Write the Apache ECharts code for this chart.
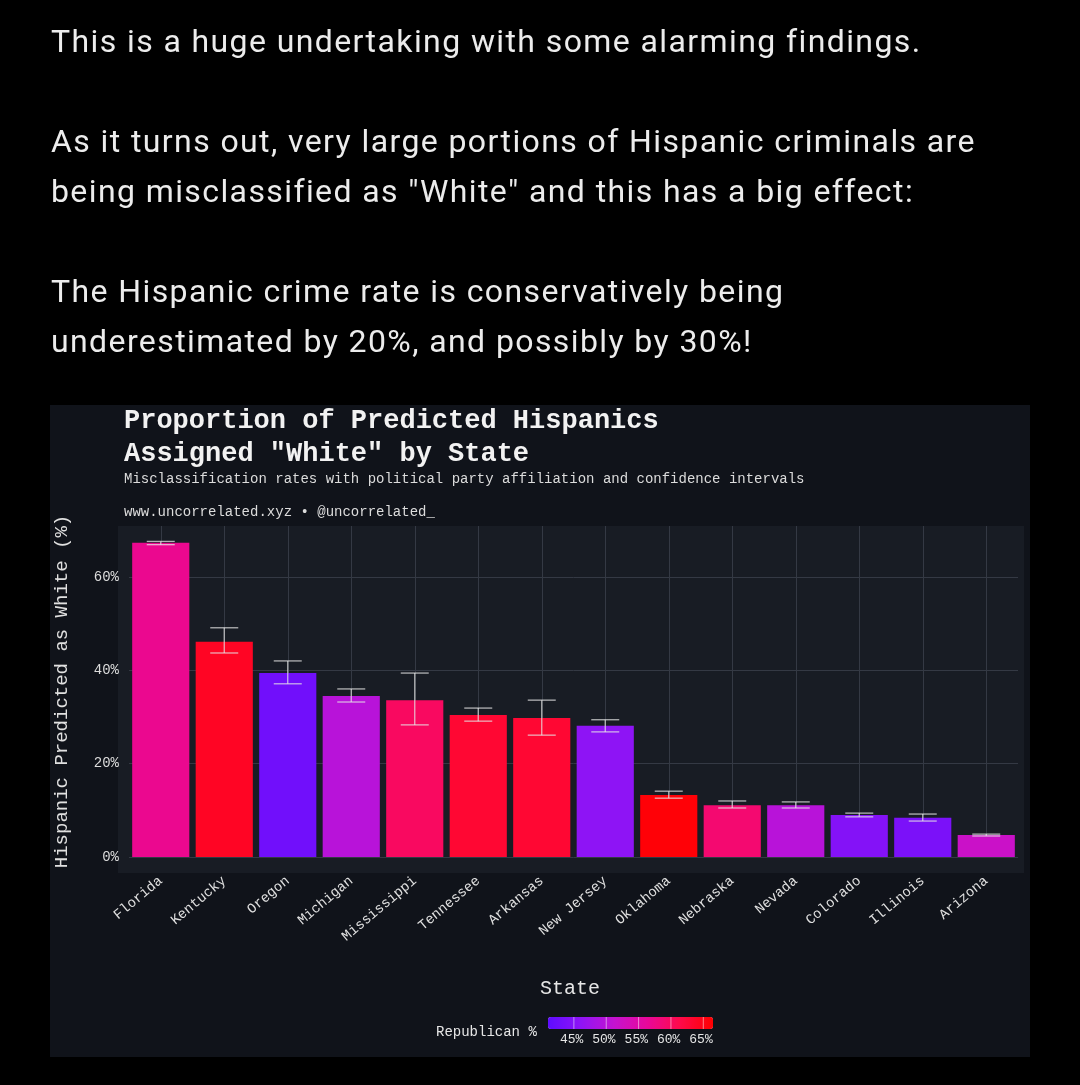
<!DOCTYPE html>
<html>
<head>
<meta charset="utf-8">
<script src="https://cdn.jsdelivr.net/npm/echarts@6/dist/echarts.min.js"></script>
<style>
  html, body { margin: 0; padding: 0; background: #000; }
  #chart { position: absolute; left: 0; top: 0; width: 1080px; height: 1085px; }
  .intro { position: absolute; left: 51px; top: 16px; color: #ececec; font-family: Roboto, sans-serif; font-size: 32px; letter-spacing: 1.4px; line-height: 50px; z-index: 2; }
</style>
</head>
<body>
<div id="chart"></div>
<div class="intro">
  This is a huge undertaking with some alarming findings.<br><br>
  As it turns out, very large portions of Hispanic criminals are<br>
  being misclassified as "White" and this has a big effect:<br><br>
  The Hispanic crime rate is conservatively being<br>
  underestimated by 20%, and possibly by 30%!
</div>
<script>
let states = ['Florida', 'Kentucky', 'Oregon', 'Michigan', 'Mississippi', 'Tennessee', 'Arkansas',
  'New Jersey', 'Oklahoma', 'Nebraska', 'Nevada', 'Colorado', 'Illinois', 'Arizona']
let pctWhite = [67.3, 46.1, 39.4, 34.5, 33.6, 30.4, 29.8, 28.1, 13.3, 11.1, 11.1, 9.0, 8.4, 4.7]
let ciLow = [66.9, 43.7, 37.1, 33.2, 28.3, 29.1, 26.1, 26.8, 12.6, 10.5, 10.5, 8.6, 7.7, 4.5]
let ciHigh = [67.6, 49.1, 42.0, 36.0, 39.4, 31.9, 33.6, 29.4, 14.1, 12.0, 11.8, 9.4, 9.2, 4.9]
let repPct = [57, 64, 43, 50, 60, 63, 63, 46, 66, 59, 50, 45, 44, 52]
let colorTicks = [45, 50, 55, 60, 65]

let repMin = 41, repMax = 66.5
let mono = '"Liberation Mono", monospace'
let cbLeft = 548, cbLen = 165

let myChart = echarts.init(document.getElementById('chart'))

myChart.setOption({
  backgroundColor: '#000',
  animation: false,
  graphic: [
    { type: 'rect', shape: { x: 50, y: 405, width: 980, height: 652 }, style: { fill: '#10131a' }, z: -10 },
    { type: 'rect', shape: { x: 118, y: 526, width: 906, height: 347 }, style: { fill: '#181c24' }, z: -9 },
    { type: 'text', left: 124, top: 405, style: { text: 'Proportion of Predicted Hispanics\nAssigned "White" by State', font: 'bold 27px ' + mono, fill: '#f2f2f2', lineHeight: 33 } },
    { type: 'text', left: 124, top: 472, style: { text: 'Misclassification rates with political party affiliation and confidence intervals', font: '14px ' + mono, fill: '#dcdcdc' } },
    { type: 'text', left: 124, top: 505, style: { text: 'www.uncorrelated.xyz • @uncorrelated_', font: '14px ' + mono, fill: '#dcdcdc' } },
    { type: 'text', left: 540, top: 979, style: { text: 'State', font: '20px ' + mono, fill: '#e6e6e6' } },
    { type: 'text', left: 436, top: 1025, style: { text: 'Republican %', font: '14px ' + mono, fill: '#e6e6e6' } }
  ].concat(colorTicks.map(t => {
    let x = cbLeft + (t - repMin) / (repMax - repMin) * cbLen
    return [
      { type: 'text', left: x - 14, top: 1033, z: 100, style: { text: t + '%', font: '13px ' + mono, fill: '#e6e6e6' } },
      { type: 'rect', shape: { x: x - 0.5, y: 1017, width: 1, height: 12 }, style: { fill: 'rgba(255,255,255,0.5)' }, z: 100 }
    ]
  }).flat()),
  grid: { left: 129, right: 62, top: 526, bottom: 228 },
  xAxis: {
    type: 'category',
    data: states,
    axisLine: { show: false },
    axisTick: { show: false },
    axisLabel: { rotate: 40, color: '#e0e0e0', fontFamily: mono, fontSize: 14, margin: 22 },
    splitLine: { show: false }
  },
  yAxis: {
    type: 'value',
    min: 0,
    max: 70.9,
    interval: 20,
    name: 'Hispanic Predicted as White (%)',
    nameLocation: 'middle',
    nameGap: 58,
    nameTextStyle: { color: '#e0e0e0', fontFamily: mono, fontSize: 19 },
    axisLabel: { formatter: v => v > 70 ? '' : v + '%', color: '#dcdcdc', fontFamily: mono, fontSize: 14, margin: 10 },
    splitLine: { showMaxLine: false, lineStyle: { color: '#343944' } }
  },
  visualMap: {
    type: 'continuous',
    min: repMin,
    max: repMax,
    dimension: 2,
    seriesIndex: 0,
    orient: 'horizontal',
    left: cbLeft,
    top: 1017,
    padding: 0,
    itemWidth: 12,
    itemHeight: cbLen,
    text: null,
    showLabel: false,
    calculable: false,
    inRange: { color: ['#5e0cff', '#8f14f5', '#c413d0', '#e8089a', '#ff0a4a', '#ff0000'] }
  },
  series: [
    {
      type: 'bar',
      barCategoryGap: '10%',
      data: states.map((s, i) => [s, pctWhite[i], repPct[i]]),
      encode: { x: 0, y: 1 },
      z: 3,
      markLine: {
        silent: true,
        symbol: 'none',
        label: { show: false },
        lineStyle: { color: '#343944', type: 'solid', width: 1 },
        z: 1,
        data: states.map(s => ({ xAxis: s }))
      }
    },
    {
      type: 'custom',
      z: 5,
      data: states.map((s, i) => [i, ciLow[i], ciHigh[i]]),
      renderItem: function (params, api) {
        let lo = api.coord([api.value(0), api.value(1)])
        let hi = api.coord([api.value(0), api.value(2)])
        let w = 14
        let st = { stroke: 'rgba(230,230,230,0.75)', lineWidth: 1.3 }
        return {
          type: 'group',
          children: [
            { type: 'line', shape: { x1: hi[0], y1: hi[1], x2: lo[0], y2: lo[1] }, style: st },
            { type: 'line', shape: { x1: hi[0] - w, y1: hi[1], x2: hi[0] + w, y2: hi[1] }, style: st },
            { type: 'line', shape: { x1: lo[0] - w, y1: lo[1], x2: lo[0] + w, y2: lo[1] }, style: st }
          ]
        }
      }
    }
  ]
})
</script>
</body>
</html>
